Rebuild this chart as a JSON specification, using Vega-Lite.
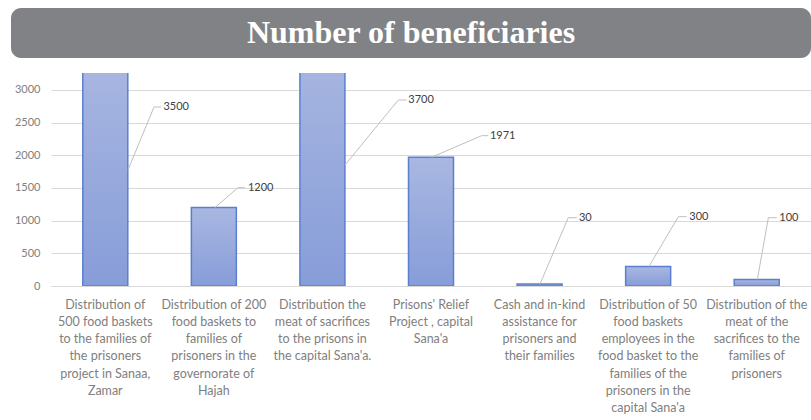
{
  "$schema": "https://vega.github.io/schema/vega-lite/v6.json",
  "padding": {"left": 11, "top": 8, "right": 0, "bottom": 0},
  "background": "white",
  "spacing": 15,
  "config": {"view": {"stroke": null}},
  "datasets": {
    "bars": [
      {"id": 1, "cat": "Distribution of|500 food baskets|to the families of|the prisoners|project  in Sanaa,|Zamar", "value": 3500},
      {"id": 2, "cat": "Distribution of 200|food baskets to|families of|prisoners in the|governorate of|Hajah", "value": 1200},
      {"id": 3, "cat": "Distribution  the|meat of sacrifices|to the prisons in|the capital Sana'a.", "value": 3700},
      {"id": 4, "cat": "Prisons' Relief|Project , capital|Sana'a", "value": 1971},
      {"id": 5, "cat": "Cash and in-kind|assistance for|prisoners and|their families", "value": 30},
      {"id": 6, "cat": "Distribution of  50|food baskets|employees in the|food basket to the|families of the|prisoners in  the|capital Sana'a", "value": 300},
      {"id": 7, "cat": "Distribution of the|meat of the|sacrifices to the|families of|prisoners", "value": 100}
    ],
    "leaders": [
      {"id": 1, "pt": 0, "off": 0.209, "value": 1776},
      {"id": 1, "pt": 1, "off": 0.449, "value": 2740},
      {"id": 1, "pt": 2, "off": 0.513, "value": 2740},
      {"id": 2, "pt": 0, "off": 0.01, "value": 1200},
      {"id": 2, "pt": 1, "off": 0.222, "value": 1505},
      {"id": 2, "pt": 2, "off": 0.286, "value": 1505},
      {"id": 3, "pt": 0, "off": 0.208, "value": 1852},
      {"id": 3, "pt": 1, "off": 0.699, "value": 2847},
      {"id": 3, "pt": 2, "off": 0.776, "value": 2847},
      {"id": 4, "pt": 0, "off": 0.006, "value": 1971},
      {"id": 4, "pt": 1, "off": 0.467, "value": 2301},
      {"id": 4, "pt": 2, "off": 0.528, "value": 2301},
      {"id": 5, "pt": 0, "off": 0.004, "value": 30},
      {"id": 5, "pt": 1, "off": 0.264, "value": 1045},
      {"id": 5, "pt": 2, "off": 0.342, "value": 1045},
      {"id": 6, "pt": 0, "off": 0.008, "value": 300},
      {"id": 6, "pt": 1, "off": 0.278, "value": 1061},
      {"id": 6, "pt": 2, "off": 0.355, "value": 1061},
      {"id": 7, "pt": 0, "off": 0.006, "value": 100},
      {"id": 7, "pt": 1, "off": 0.107, "value": 1045},
      {"id": 7, "pt": 2, "off": 0.184, "value": 1045}
    ],
    "labels": [
      {"id": 1, "off": 0.536, "value": 2740, "text": "3500"},
      {"id": 2, "off": 0.314, "value": 1505, "text": "1200"},
      {"id": 3, "off": 0.791, "value": 2847, "text": "3700"},
      {"id": 4, "off": 0.543, "value": 2301, "text": "1971"},
      {"id": 5, "off": 0.363, "value": 1045, "text": "30"},
      {"id": 6, "off": 0.379, "value": 1061, "text": "300"},
      {"id": 7, "off": 0.208, "value": 1045, "text": "100"}
    ],
    "title": [{"t": "Number of beneficiaries"}]
  },
  "vconcat": [
    {
      "width": 800,
      "height": 50,
      "view": {"fill": "#818286", "stroke": null, "cornerRadius": 10},
      "data": {"name": "title"},
      "mark": {"type": "text", "font": "Liberation Serif", "fontWeight": "bold", "fontSize": 32, "color": "white", "baseline": "middle", "align": "center"},
      "encoding": {"text": {"field": "t"}}
    },
    {
      "width": 800,
      "height": 213,
      "encoding": {
        "x": {
          "field": "cat", "type": "nominal", "sort": null, "title": null,
          "scale": {"paddingInner": 0, "paddingOuter": 0, "range": [40, 800]},
          "axis": {
            "labelExpr": "split(datum.label, '|')",
            "labelAngle": 0, "ticks": false, "domain": true, "domainColor": "#d9d9d9",
            "labelColor": "#808080", "labelFont": "Lato", "labelFontSize": 12.5,
            "labelLineHeight": 17.3, "labelPadding": 12, "labelLimit": 0, "labelBaseline": "top"
          }
        },
        "y": {
          "field": "value", "type": "quantitative", "title": null,
          "scale": {"domain": [0, 3260], "nice": false, "zero": true},
          "axis": {
            "values": [0, 500, 1000, 1500, 2000, 2500, 3000], "format": "d",
            "grid": true, "gridColor": "#d9d9d9", "domain": false, "ticks": false,
            "labelColor": "#808080", "labelFont": "Lato", "labelFontSize": 11,
            "labelPadding": 11, "labelOverlap": false, "offset": -40
          }
        }
      },
      "layer": [
        {
          "data": {"name": "bars"},
          "mark": {
            "type": "bar", "clip": true, "width": 45,
            "fill": {"gradient": "linear", "x1": 0, "y1": 0, "x2": 0, "y2": 1,
              "stops": [{"offset": 0, "color": "#a9b7e1"}, {"offset": 1, "color": "#879dd9"}]},
            "stroke": "#5b7fd0", "strokeWidth": 1.5
          }
        },
        {
          "data": {"name": "leaders"},
          "transform": [{"lookup": "id", "from": {"data": {"name": "bars"}, "key": "id", "fields": ["cat"]}}],
          "mark": {"type": "line", "color": "#bfbfbf", "strokeWidth": 1},
          "encoding": {
            "xOffset": {"field": "off", "type": "quantitative", "scale": {"domain": [-0.5, 0.5], "range": [0, 108.57]}},
            "detail": {"field": "id"},
            "order": {"field": "pt"}
          }
        },
        {
          "data": {"name": "labels"},
          "transform": [{"lookup": "id", "from": {"data": {"name": "bars"}, "key": "id", "fields": ["cat"]}}],
          "mark": {"type": "text", "align": "left", "baseline": "middle", "font": "Lato", "fontSize": 11, "color": "#404040"},
          "encoding": {
            "xOffset": {"field": "off", "type": "quantitative", "scale": {"domain": [-0.5, 0.5], "range": [0, 108.57]}},
            "text": {"field": "text"}
          }
        }
      ]
    }
  ]
}
